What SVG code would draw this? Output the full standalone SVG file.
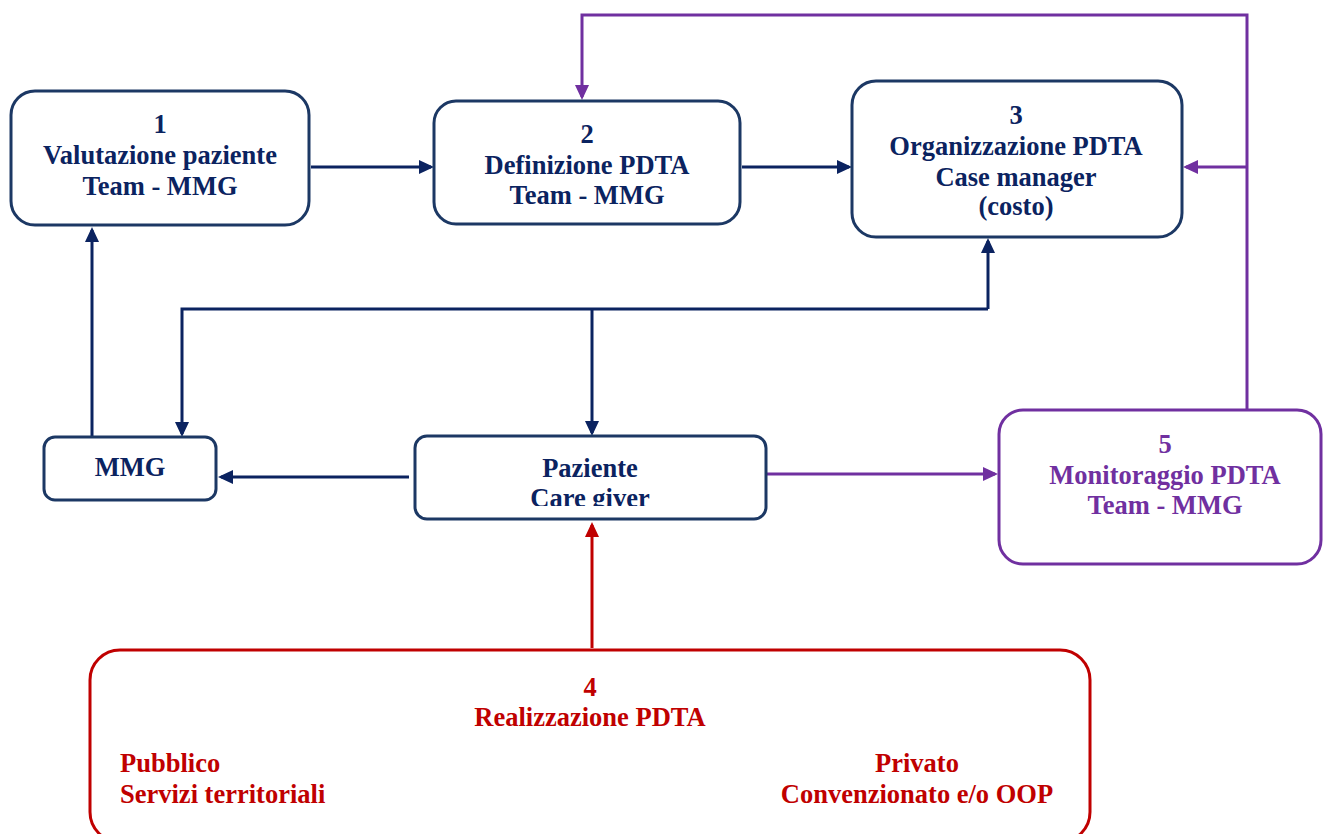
<svg xmlns="http://www.w3.org/2000/svg" width="1323" height="834" viewBox="0 0 1323 834">
<style>
  .t{font-family:"Liberation Serif","Times New Roman",serif;font-weight:bold;font-size:26.5px;text-anchor:middle}
  .navy{fill:#0b2360}
  .purp{fill:#7030a0}
  .red{fill:#c00000}
  .bn{fill:#fff;stroke:#1c3864;stroke-width:3}
  .bp{fill:#fff;stroke:#7030a0;stroke-width:3}
  .br{fill:#fff;stroke:#c00000;stroke-width:3}
  .cn{fill:none;stroke:#0b2360;stroke-width:3;marker-end:url(#an)}
  .cp{fill:none;stroke:#7030a0;stroke-width:3;marker-end:url(#ap)}
  .cr{fill:none;stroke:#c00000;stroke-width:3;marker-end:url(#ar)}
</style>
<defs>
  <marker id="an" viewBox="0 0 15 14" refX="12" refY="7" markerWidth="15" markerHeight="14" markerUnits="userSpaceOnUse" orient="auto"><path d="M0,0 L15,7 L0,14 z" fill="#0b2360"/></marker>
  <marker id="ap" viewBox="0 0 15 14" refX="12" refY="7" markerWidth="15" markerHeight="14" markerUnits="userSpaceOnUse" orient="auto"><path d="M0,0 L15,7 L0,14 z" fill="#7030a0"/></marker>
  <marker id="ar" viewBox="0 0 15 14" refX="12" refY="7" markerWidth="15" markerHeight="14" markerUnits="userSpaceOnUse" orient="auto"><path d="M0,0 L15,7 L0,14 z" fill="#c00000"/></marker>
  <clipPath id="clipPaz"><rect x="415" y="436" width="351" height="70"/></clipPath>
</defs>
<rect width="1323" height="834" fill="#fff"/>

<g id="connectors">
  <path class="cn" d="M311,167 H431"/>
  <path class="cn" d="M742,167 H849"/>
  <path class="cp" d="M1247,409 V15 H582 V97"/>
  <path class="cp" d="M1247,167 H1186"/>
  <path class="cn" d="M988,309 H182 V434"/>
  <path class="cn" d="M988,309 V241"/>
  <path class="cn" d="M592,309 V433"/>
  <path class="cn" d="M92,437 V230"/>
  <path class="cn" d="M409,477 H221"/>
  <path class="cp" d="M766,474 H995"/>
  <path class="cr" d="M592,648 V525"/>
</g>

<g id="node1">
  <rect class="bn" x="11" y="91" width="298" height="134" rx="24"/>
  <text class="t navy" x="160" y="133">1</text>
  <text class="t navy" x="160" y="164">Valutazione paziente</text>
  <text class="t navy" x="160" y="195">Team - MMG</text>
</g>

<g id="node2">
  <rect class="bn" x="434" y="101" width="306" height="123" rx="22"/>
  <text class="t navy" x="587" y="143">2</text>
  <text class="t navy" x="587" y="174">Definizione PDTA</text>
  <text class="t navy" x="587" y="204">Team - MMG</text>
</g>

<g id="node3">
  <rect class="bn" x="852" y="81" width="330" height="156" rx="24"/>
  <text class="t navy" x="1016" y="124">3</text>
  <text class="t navy" x="1016" y="155">Organizzazione PDTA</text>
  <text class="t navy" x="1016" y="186">Case manager</text>
  <text class="t navy" x="1016" y="215">(costo)</text>
</g>

<g id="nodeMMG">
  <rect class="bn" x="44" y="437" width="172" height="63" rx="11"/>
  <text class="t navy" x="130" y="476">MMG</text>
</g>

<g id="nodePaziente">
  <rect class="bn" x="415" y="436" width="351" height="83" rx="12"/>
  <g clip-path="url(#clipPaz)">
    <text class="t navy" x="590" y="477">Paziente</text>
    <text class="t navy" x="590" y="507">Care giver</text>
  </g>
</g>

<g id="node5">
  <rect class="bp" x="999" y="410" width="322" height="154" rx="24"/>
  <text class="t purp" x="1165" y="453">5</text>
  <text class="t purp" x="1165" y="484">Monitoraggio PDTA</text>
  <text class="t purp" x="1165" y="514">Team - MMG</text>
</g>

<g id="node4">
  <rect class="br" x="90" y="650" width="1000" height="192" rx="30"/>
  <text class="t red" x="590" y="696">4</text>
  <text class="t red" x="590" y="726">Realizzazione PDTA</text>
  <text class="t red" x="120" y="772" style="text-anchor:start">Pubblico</text>
  <text class="t red" x="120" y="803" style="text-anchor:start">Servizi territoriali</text>
  <text class="t red" x="917" y="772">Privato</text>
  <text class="t red" x="917" y="803">Convenzionato e/o OOP</text>
</g>
</svg>
